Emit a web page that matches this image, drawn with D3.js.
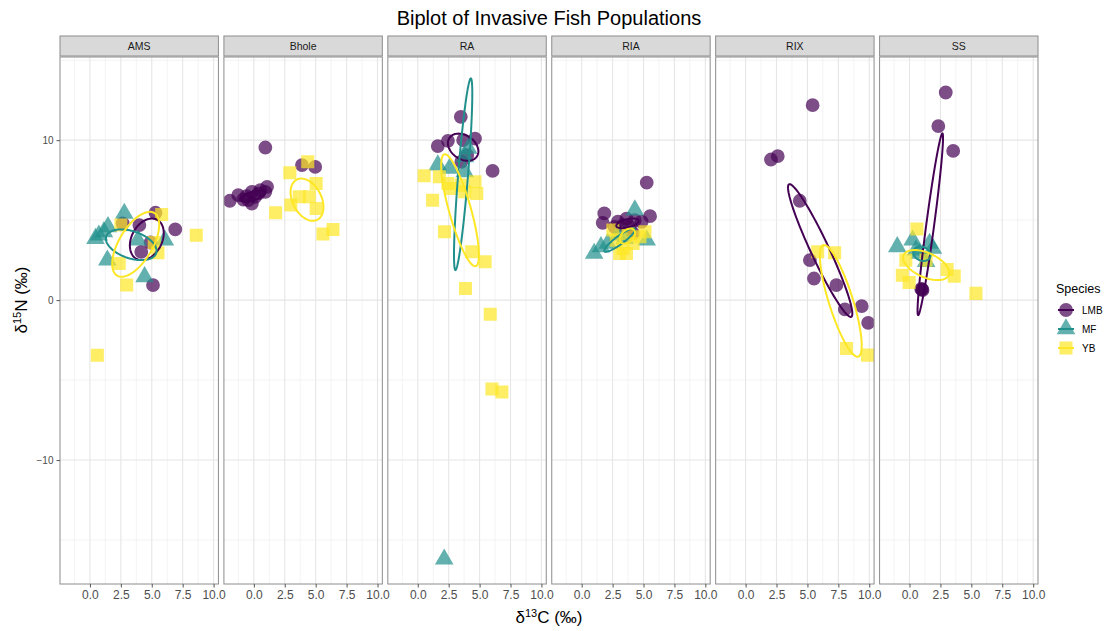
<!DOCTYPE html>
<html><head><meta charset="utf-8">
<script src="https://cdn.jsdelivr.net/npm/d3@7"></script>
<style>body{margin:0;background:#fff;}svg{display:block;font-family:"Liberation Sans",Arial,sans-serif;}</style>
</head><body>
<svg id="c" width="1107" height="631"></svg>
<script>
const sites = ["AMS","Bhole","RA","RIA","RIX","SS"];
const species = ["LMB","MF","YB"];
const speciesColors = ["#440154","#21908C","#FDE725"];
const xTicks = [0,2.5,5,7.5,10];
const xTickLabels = ["0.0","2.5","5.0","7.5","10.0"];
const yTicks = [-10,0,10];

// [site, d13C, d15N]
const lmbPoints = [
 ["AMS",5.3,5.46],["AMS",4.0,4.69],["AMS",2.65,4.79],["AMS",6.9,4.42],["AMS",4.15,3.02],["AMS",5.1,0.94],["AMS",4.9,3.6],
 ["Bhole",0.93,9.54],["Bhole",3.89,8.44],["Bhole",4.96,8.33],["Bhole",-1.94,6.21],["Bhole",-1.26,6.56],["Bhole",-0.85,6.29],
 ["Bhole",-0.16,6.77],["Bhole",-0.16,6.04],["Bhole",0.39,6.67],["Bhole",1.07,7.08],["Bhole",0.93,6.77],["Bhole",-0.44,6.25],
 ["Bhole",0.11,6.46],["Bhole",0.52,6.88],["Bhole",-0.6,6.5],
 ["RA",3.48,11.46],["RA",1.62,9.63],["RA",2.44,9.96],["RA",4.63,10.1],["RA",6.05,8.08],["RA",3.67,10.0],["RA",4.0,9.06],["RA",3.53,8.65],
 ["RIA",5.26,7.35],["RIA",1.83,5.42],["RIA",1.7,4.83],["RIA",5.53,5.25],["RIA",2.93,4.9],["RIA",3.62,5.1],["RIA",4.3,5.0],
 ["RIA",4.85,4.9],["RIA",3.9,4.58],["RIA",3.34,4.69],["RIA",4.16,4.17],["RIA",2.66,4.58],
 ["RIX",5.42,12.19],["RIX",2.05,8.79],["RIX",2.6,9.0],["RIX",4.38,6.21],["RIX",5.2,2.5],["RIX",5.53,1.35],["RIX",7.34,0.94],
 ["RIX",8.03,-0.58],["RIX",9.39,-0.38],["RIX",9.91,-1.42],
 ["SS",2.93,12.98],["SS",2.33,10.88],["SS",3.53,9.33],["SS",1.01,0.67],["SS",0.95,0.7],["SS",1.05,0.62]
];
const mfPoints = [
 ["AMS",2.78,5.42],["AMS",1.46,4.58],["AMS",0.72,4.06],["AMS",1.13,4.27],["AMS",0.45,3.85],["AMS",3.88,3.75],["AMS",6.06,3.75],
 ["AMS",1.41,2.5],["AMS",4.42,1.46],
 ["RA",1.62,8.44],["RA",4.08,9.48],["RA",3.8,8.96],["RA",3.8,8.02],["RA",2.57,8.23],["RA",2.14,-16.2],
 ["RIA",1.01,2.92],["RIA",1.56,3.33],["RIA",2.11,3.54],["RIA",5.26,3.75],["RIA",4.3,5.63],["RIA",2.93,4.06],["RIA",3.48,3.85],
 ["SS",-0.99,3.33],["SS",0.25,3.75],["SS",1.62,3.54],["SS",1.89,3.23],["SS",0.8,2.92],["SS",1.34,2.4],["SS",0.52,3.13]
];
const ybPoints = [
 ["AMS",5.8,5.35],["AMS",8.6,4.06],["AMS",5.5,2.96],["AMS",2.37,2.29],["AMS",2.97,0.94],["AMS",0.6,-3.45],["AMS",2.5,4.7],["AMS",5.2,3.6],
 ["Bhole",4.36,8.65],["Bhole",2.91,7.96],["Bhole",5.04,7.29],["Bhole",3.67,6.46],["Bhole",4.49,6.46],["Bhole",2.99,5.94],
 ["Bhole",5.04,5.73],["Bhole",1.76,5.46],["Bhole",5.59,4.13],["Bhole",6.4,4.42],
 ["RA",0.52,7.77],["RA",1.75,7.71],["RA",2.44,7.29],["RA",3.53,7.19],["RA",4.63,7.4],["RA",4.77,6.67],["RA",3.8,6.77],["RA",2.71,6.98],
 ["RA",1.2,6.25],["RA",2.16,4.27],["RA",4.36,3.02],["RA",5.45,2.4],["RA",3.86,0.73],["RA",5.86,-0.88],["RA",6.0,-5.56],["RA",6.8,-5.75],
 ["RIA",2.79,3.75],["RIA",3.34,3.23],["RIA",3.62,2.92],["RIA",3.07,2.92],["RIA",4.16,3.54],["RIA",4.71,3.96],["RIA",5.12,4.27],
 ["RIA",2.52,4.38],["RIA",3.75,4.17],
 ["RIX",5.83,3.02],["RIX",7.2,2.96],["RIX",8.16,-3.02],["RIX",9.86,-3.44],
 ["SS",0.6,4.44],["SS",-0.58,1.56],["SS",-0.03,1.1],["SS",3.04,1.92],["SS",3.62,1.5],["SS",5.37,0.42],["SS",-0.3,2.5],["SS",1.34,2.5]
];
// ellipses: [site, species, centre d13C, centre d15N, half-width, half-height, correlation]
const ellipses = [
 ["AMS","LMB",4.6,3.8,1.37,1.3,0.3],
 ["AMS","MF",3.34,3.46,2.05,0.96,-0.4],
 ["AMS","YB",3.7,3.49,1.9,2.03,0.6],
 ["Bhole","LMB",-0.1,6.5,1.0,0.35,0.6],
 ["Bhole","YB",4.3,6.28,1.33,1.32,-0.35],
 ["RA","LMB",3.67,9.56,1.23,0.85,-0.3],
 ["RA","MF",3.67,7.87,0.74,5.99,0.84],
 ["RA","YB",3.42,5.62,1.53,3.5,-0.8],
 ["RIA","LMB",3.7,4.8,0.9,0.3,0.5],
 ["RIA","MF",3.07,3.75,1.24,0.73,0.9],
 ["RIA","YB",3.7,4.0,0.62,0.47,0.4],
 ["RIX","LMB",6.03,3.1,2.6,4.15,-0.95],
 ["RIX","YB",7.7,-0.05,1.69,3.49,-0.8],
 ["SS","LMB",1.68,4.74,1.03,5.68,0.95],
 ["SS","MF",1.0,2.9,0.7,0.45,-0.2],
 ["SS","YB",1.34,2.19,1.86,0.94,-0.5]
];

const svg = d3.select("#c");
const W = 1107, H = 631;
const plotL = 60, plotR = 1038, gap = 5.5;
const panelW = (plotR - plotL - gap*5)/6;
const stripTop = 36, stripH = 20, panelTop = 57, panelBot = 584;
const color = d3.scaleOrdinal().domain(species).range(speciesColors);
const y = d3.scaleLinear().domain([-17.75, 15.2]).range([panelBot, panelTop]);
const shapeType = {LMB: d3.symbolCircle, MF: d3.symbolTriangle, YB: d3.symbolSquare};
const shapeSize = {LMB: 150, MF: 150, YB: 170};

// title
svg.append("text").attr("x", 549).attr("y", 25).attr("text-anchor","middle")
  .attr("font-size", 20).attr("fill","#000").text("Biplot of Invasive Fish Populations");

const allPts = [
  ...lmbPoints.map(d=>({site:d[0],sp:"LMB",x:d[1],y:d[2]})),
  ...mfPoints.map(d=>({site:d[0],sp:"MF",x:d[1],y:d[2]})),
  ...ybPoints.map(d=>({site:d[0],sp:"YB",x:d[1],y:d[2]}))
];

sites.forEach((site,i)=>{
  const x0 = plotL + i*(panelW+gap);
  const x = d3.scaleLinear().domain([-2.42, 10.39]).range([x0, x0+panelW]);
  const g = svg.append("g");
  const clipId = "clip"+i;
  svg.append("clipPath").attr("id", clipId).append("rect")
    .attr("x", x0).attr("y", panelTop).attr("width", panelW).attr("height", panelBot-panelTop);
  g.append("rect").attr("x",x0).attr("y",panelTop).attr("width",panelW).attr("height",panelBot-panelTop).attr("fill","#fff");
  // grid minor
  const xMinor = [-1.25,1.25,3.75,6.25,8.75];
  const yMinor = [-15,-5,5,15];
  g.selectAll(".xm").data(xMinor).enter().append("line")
    .attr("x1",d=>x(d)).attr("x2",d=>x(d)).attr("y1",panelTop).attr("y2",panelBot)
    .attr("stroke","#ebebeb").attr("stroke-width",0.6);
  g.selectAll(".ym").data(yMinor).enter().append("line")
    .attr("x1",x0).attr("x2",x0+panelW).attr("y1",d=>y(d)).attr("y2",d=>y(d))
    .attr("stroke","#ebebeb").attr("stroke-width",0.6);
  g.selectAll(".xM").data(xTicks).enter().append("line")
    .attr("x1",d=>x(d)).attr("x2",d=>x(d)).attr("y1",panelTop).attr("y2",panelBot)
    .attr("stroke","#e6e6e6").attr("stroke-width",1.1);
  g.selectAll(".yM").data(yTicks).enter().append("line")
    .attr("x1",x0).attr("x2",x0+panelW).attr("y1",d=>y(d)).attr("y2",d=>y(d))
    .attr("stroke","#e6e6e6").attr("stroke-width",1.1);

  const data = g.append("g").attr("clip-path", `url(#${clipId})`);
  // points
  data.selectAll("path.pt").data(allPts.filter(d=>d.site===site)).enter().append("path")
    .attr("transform", d=>`translate(${x(d.x)},${y(d.y)})`)
    .attr("d", d=>d3.symbol().type(shapeType[d.sp]).size(shapeSize[d.sp])())
    .attr("fill", d=>color(d.sp)).attr("fill-opacity",0.7);
  // ellipses
  const line = d3.line().x(p=>x(p[0])).y(p=>y(p[1])).curve(d3.curveLinearClosed);
  ellipses.filter(e=>e[0]===site).forEach(e=>{
    const [, sp, cx, cy, sx, sy, r] = e;
    const pts = d3.range(0, 100).map(k=>{
      const t = k/100*2*Math.PI;
      return [cx + sx*Math.cos(t), cy + sy*(r*Math.cos(t) + Math.sqrt(1-r*r)*Math.sin(t))];
    });
    data.append("path").attr("d", line(pts)).attr("fill","none")
      .attr("stroke", color(sp)).attr("stroke-width", 2);
  });
  // panel border
  g.append("rect").attr("x",x0).attr("y",panelTop).attr("width",panelW).attr("height",panelBot-panelTop)
    .attr("fill","none").attr("stroke","#8c8c8c").attr("stroke-width",1);
  // strip
  g.append("rect").attr("x",x0).attr("y",stripTop).attr("width",panelW).attr("height",stripH)
    .attr("fill","#d9d9d9").attr("stroke","#8c8c8c").attr("stroke-width",1);
  g.append("text").attr("x",x0+panelW/2).attr("y",stripTop+stripH/2+4).attr("text-anchor","middle")
    .attr("font-size",10.5).attr("fill","#1a1a1a").text(site);
  // x axis
  const ax = d3.axisBottom(x).tickValues(xTicks).tickFormat((d,k)=>xTickLabels[k]).tickSize(3.5).tickPadding(3);
  const axg = g.append("g").attr("transform",`translate(0,${panelBot})`).call(ax);
  axg.select(".domain").remove();
  axg.selectAll("line").attr("stroke","#555");
  axg.selectAll("text").attr("font-size",12).attr("fill","#4d4d4d").attr("font-family","Liberation Sans, Arial, sans-serif");
  if(i===0){
    const ay = d3.axisLeft(y).tickValues(yTicks).tickFormat(d3.format("d")).tickSize(3.5).tickPadding(3);
    const ayg = g.append("g").attr("transform",`translate(${x0},0)`).call(ay);
    ayg.select(".domain").remove();
    ayg.selectAll("line").attr("stroke","#555");
    ayg.selectAll("text").attr("font-size",10).attr("fill","#4d4d4d").attr("font-family","Liberation Sans, Arial, sans-serif");
  }
});

// axis titles
const xt = svg.append("text").attr("x",549).attr("y",623).attr("text-anchor","middle").attr("font-size",17).attr("fill","#000");
xt.append("tspan").text("δ");
xt.append("tspan").attr("dy",-6).attr("font-size",11).text("13");
xt.append("tspan").attr("dy",6).text("C (‰)");
const yt = svg.append("text").attr("transform","translate(27,300) rotate(-90)").attr("text-anchor","middle").attr("font-size",17).attr("fill","#000");
yt.append("tspan").text("δ");
yt.append("tspan").attr("dy",-6).attr("font-size",11).text("15");
yt.append("tspan").attr("dy",6).text("N (‰)");

// legend
const lg = svg.append("g");
lg.append("text").attr("x",1056).attr("y",293).attr("font-size",12.5).attr("fill","#000").text("Species");
species.forEach((s,k)=>{
  const cy = 310 + k*19;
  lg.append("path").attr("transform",`translate(1066,${cy})`)
    .attr("d", d3.symbol().type(shapeType[s]).size(shapeSize[s])())
    .attr("fill", color(s)).attr("fill-opacity",0.7);
  lg.append("line").attr("x1",1058).attr("x2",1074).attr("y1",cy).attr("y2",cy)
    .attr("stroke",color(s)).attr("stroke-width",2);
  lg.append("text").attr("x",1082).attr("y",cy+3.5).attr("font-size",10).attr("fill","#000").text(s);
});
</script>
</body></html>
